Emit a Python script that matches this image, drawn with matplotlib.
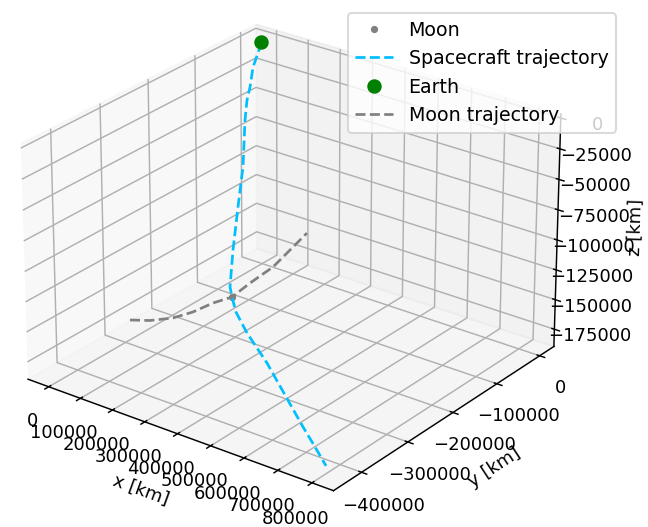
import matplotlib
matplotlib.use("Agg")
import matplotlib.pyplot as plt

# positions in km
earth_pos = [0.0, 0.0, 0.0]
moon_pos = [259400.0, -247200.0, -139300.0]

craft_x = [0, 3600, 5600, 24000, 31900, 53900, 114900, 154300, 197700, 239400,
           259400, 295800, 363800, 474100, 578300, 680700, 746100, 806300]
craft_y = [0, -10100, -22700, -42300, -54600, -74500, -121800, -160500, -201800, -237500,
           -247200, -264000, -287800, -322600, -358000, -392800, -414400, -434600]
craft_z = [0, -6900, -16000, -27400, -35200, -46100, -70600, -92500, -115700, -134900,
           -139300, -144700, -150400, -156700, -164700, -172500, -177000, -181400]

moon_x = [81500, 124800, 168500, 202700, 233900, 259400, 283200, 309200, 329900, 342400]
moon_y = [-343000, -330000, -310900, -291700, -270300, -247200, -224800, -193100, -164000, -142200]
moon_z = [-153100, -152500, -150700, -146900, -141400, -139300, -130500, -121800, -109700, -101700]

x_ticks = [0, 100000, 200000, 300000, 400000, 500000, 600000, 700000, 800000]
y_ticks = [-400000, -300000, -200000, -100000, 0]
z_ticks = [-175000, -150000, -125000, -100000, -75000, -50000, -25000, 0]

fig = plt.figure(figsize=(648 / 130, 527 / 130), dpi=130)
ax = fig.add_axes([-0.0074, -0.0342, 0.8948, 1.1002], projection="3d")
ax.view_init(elev=25.8, azim=-53)
ax.set_box_aspect((4, 3.96, 2.72))
ax.set_proj_type("persp", focal_length=1.34)

ax.plot([moon_pos[0]], [moon_pos[1]], [moon_pos[2]], ".", color="gray", label="Moon")
ax.plot(craft_x, craft_y, craft_z, "--", color="deepskyblue", label="Spacecraft trajectory")
ax.plot([earth_pos[0]], [earth_pos[1]], [earth_pos[2]], "o", color="green",
        markersize=7, label="Earth")
ax.plot(moon_x, moon_y, moon_z, "--", color="gray", label="Moon trajectory")

ax.set_xlim(-65943, 862270)
ax.set_ylim(-459350, 33859)
ax.set_zlim(-189630, 3396)
ax.set_xticks(x_ticks)
ax.set_yticks(y_ticks)
ax.set_zticks(z_ticks)

ax.set_xlabel("x [km]")
ax.set_ylabel("y [km]")
ax.set_zlabel("z [km]")
ax.legend(loc="upper right", bbox_to_anchor=(616 / 648, 1 - 13 / 527),
          bbox_transform=fig.transFigure, borderaxespad=0, fontsize=10.5)

fig.savefig("out.png", dpi=130)
